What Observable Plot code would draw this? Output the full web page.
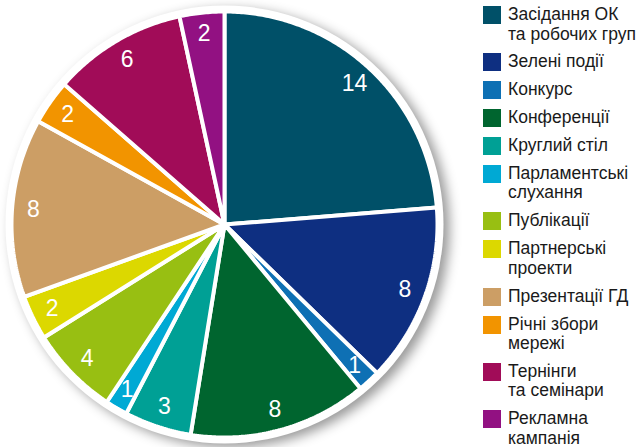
<!DOCTYPE html>
<html>
<head>
<meta charset="utf-8">
<script src="https://cdn.jsdelivr.net/npm/d3@7"></script>
<script src="https://cdn.jsdelivr.net/npm/@observablehq/plot@0.6"></script>
<style>
  html, body { margin: 0; padding: 0; background: #fff; }
  #wrap { position: relative; width: 643px; height: 447px; overflow: hidden; font-family: "Liberation Sans", Arial, sans-serif; }
  #wrap svg { position: absolute; left: 0; top: 0; }
  #wrap svg g[aria-label="dot"] { filter: drop-shadow(6px 4px 6px rgba(0,0,0,0.4)); }
  #legend { position: absolute; left: 483px; top: 5px; }
  .item { display: flex; align-items: flex-start; margin-bottom: 8.4px; }
  .sw { width: 18px; height: 18px; flex: none; margin-right: 7px; margin-top: 1px; }
  .lab { font-size: 17.5px; line-height: 19.5px; color: #1a1a1a; white-space: nowrap; }
</style>
</head>
<body>
<div id="wrap"><div id="legend"></div></div>
<script>
const categories = [
  "Засідання ОК\nта робочих груп",
  "Зелені події",
  "Конкурс",
  "Конференції",
  "Круглий стіл",
  "Парламентські\nслухання",
  "Публікації",
  "Партнерські\nпроекти",
  "Презентації ГД",
  "Річні збори\nмережі",
  "Тернінги\nта семінари",
  "Рекламна\nкампанія"
];
const values = [14, 8, 1, 8, 3, 1, 4, 2, 8, 2, 6, 2];
const colors = [
  "#005068", "#0e2f81", "#0e70b4", "#00652f", "#00a095", "#00a9d4",
  "#98bf12", "#dcd800", "#cc9e65", "#f29400", "#a10c58", "#921182"
];

const rows = categories.map((name, i) => ({name, value: values[i]}));
const arcs = d3.pie().sort(null).value(d => d.value)(rows);

// wedge outlines in unit-circle coordinates (angle 0 at top, clockwise)
const wedgePts = [];
for (const a of arcs) {
  wedgePts.push({name: a.data.name, x: 0, y: 0});
  const n = Math.max(2, Math.ceil((a.endAngle - a.startAngle) / 0.01));
  for (let k = 0; k <= n; k++) {
    const t = a.startAngle + (a.endAngle - a.startAngle) * k / n;
    wedgePts.push({name: a.data.name, x: Math.sin(t), y: -Math.cos(t)});
  }
  wedgePts.push({name: a.data.name, x: 0, y: 0});
}
const labels = arcs.map(a => {
  const m = (a.startAngle + a.endAngle) / 2;
  return {text: String(a.data.value), x: 0.9 * Math.sin(m), y: -0.9 * Math.cos(m)};
});

const svg = Plot.plot({
  width: 470,
  height: 447,
  margin: 0,
  x: {domain: [-1, 1], range: [11, 437], axis: null},
  y: {domain: [-1, 1], range: [11, 437], axis: null},
  color: {domain: categories, range: colors},
  marks: [
    Plot.dot([{x: 0, y: 0}], {x: "x", y: "y", r: 219, fill: "white", stroke: "none"}),
    Plot.line(wedgePts, {x: "x", y: "y", z: "name", fill: "name", stroke: "white", strokeWidth: 4, strokeLinejoin: "miter", curve: "linear"}),
    Plot.text(labels, {x: "x", y: "y", text: "text", fill: "white", fontSize: 23, fontFamily: "Liberation Sans, Arial, sans-serif"})
  ]
});
document.getElementById("wrap").prepend(svg);

const legend = document.getElementById("legend");
categories.forEach((c, i) => {
  const it = document.createElement("div");
  it.className = "item";
  const sw = document.createElement("div");
  sw.className = "sw";
  sw.style.background = colors[i];
  const lab = document.createElement("div");
  lab.className = "lab";
  lab.innerHTML = c.split("\n").join("<br>");
  it.appendChild(sw);
  it.appendChild(lab);
  legend.appendChild(it);
});
</script>
</body>
</html>
